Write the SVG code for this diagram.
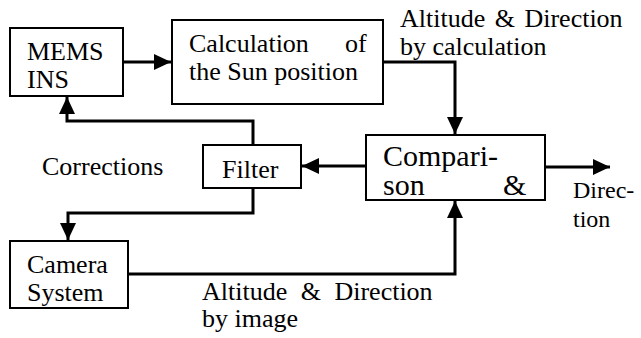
<svg xmlns="http://www.w3.org/2000/svg" width="641" height="338" viewBox="0 0 641 338">
<defs>
<style>
text{font-family:'Liberation Serif','Tinos','Times New Roman','DejaVu Serif',serif;font-size:26px;fill:#000}
.box{fill:#fff;stroke:#000;stroke-width:2}
.big{font-size:30px}
.sm{font-size:24px}
.ln{fill:none;stroke:#000;stroke-width:3}
</style>
<marker id="ah" markerWidth="17" markerHeight="16" refX="17" refY="8" orient="auto" markerUnits="userSpaceOnUse">
<path d="M0,0 L17,8 L0,16 Z" fill="#000"/>
</marker>
</defs>
<rect width="641" height="338" fill="#fff"/>
<g id="connectors">
<path class="ln" d="M123,62 H171" marker-end="url(#ah)"/>
<path class="ln" d="M383,62 H455 V134" marker-end="url(#ah)"/>
<path class="ln" d="M366,166 H302" marker-end="url(#ah)"/>
<path class="ln" d="M253,145 V121 H67 V97" marker-end="url(#ah)"/>
<path class="ln" d="M253,188 V213 H68 V240" marker-end="url(#ah)"/>
<path class="ln" d="M128,274 H455 V201" marker-end="url(#ah)"/>
<path class="ln" d="M545,167 H610" marker-end="url(#ah)"/>
</g>
<g id="mems">
<rect class="box" x="10" y="28" width="113" height="68"/>
<text x="27" y="60">MEMS</text>
<text x="27" y="88">INS</text>
</g>
<g id="calc">
<rect class="box" x="172" y="20" width="211" height="84"/>
<text x="189" y="52">Calculation</text>
<text x="345" y="52">of</text>
<text x="189" y="80">the Sun position</text>
</g>
<g id="comparison">
<rect class="box" x="366" y="135" width="179" height="65"/>
<text class="big" x="383" y="166">Compari-</text>
<text class="big" x="383" y="195">son</text>
<text class="big" x="503" y="195">&amp;</text>
</g>
<g id="filter">
<rect class="box" x="203" y="145" width="98" height="43"/>
<text x="222" y="178">Filter</text>
</g>
<g id="camera">
<rect class="box" x="10" y="241" width="118" height="67"/>
<text x="27" y="273">Camera</text>
<text x="27" y="301">System</text>
</g>
<g id="labels">
<text x="400" y="27" word-spacing="3">Altitude &amp; Direction</text>
<text x="400" y="55">by calculation</text>
<text x="42" y="175">Corrections</text>
<text x="202" y="300" word-spacing="7">Altitude &amp; Direction</text>
<text x="202" y="327">by image</text>
<text class="sm" x="573" y="198">Direc-</text>
<text class="sm" x="573" y="227">tion</text>
</g>
</svg>
